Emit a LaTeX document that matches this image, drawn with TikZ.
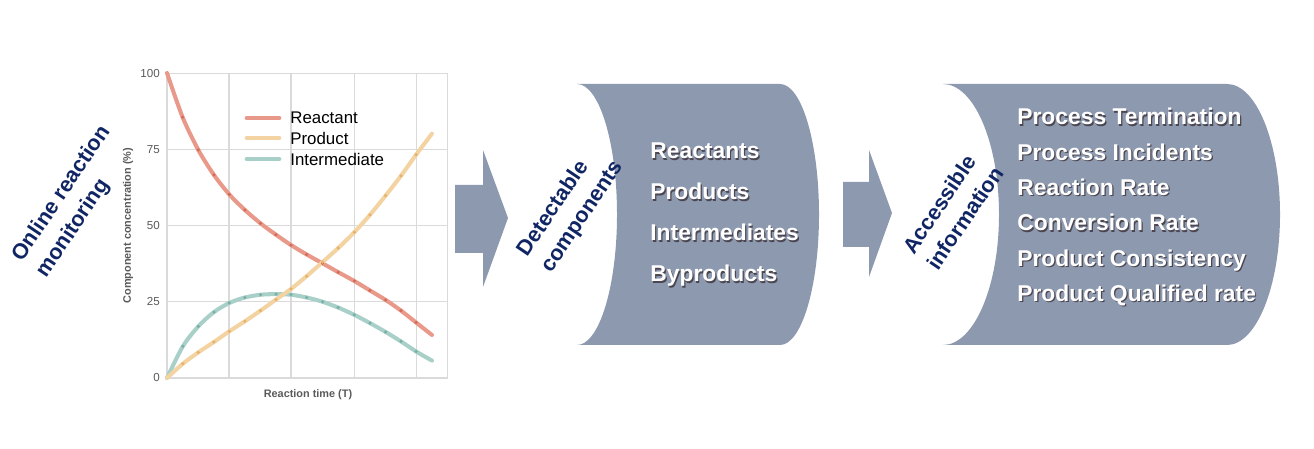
\documentclass[tikz,border=0pt]{standalone}
\usepackage{fontspec}
\setmainfont{Liberation Sans}
\usepackage{xcolor}
\usepackage{tikz}
\usetikzlibrary{positioning,calc}
\definecolor{navy}{HTML}{102563}
\definecolor{slab}{HTML}{8D99AF}
\definecolor{gridc}{HTML}{DADADA}
\definecolor{tickc}{HTML}{5A5A5A}
\definecolor{reac}{HTML}{E9998A}
\definecolor{reacd}{HTML}{D56A58}
\definecolor{prod}{HTML}{F3D3A2}
\definecolor{prodd}{HTML}{E6B26A}
\definecolor{intm}{HTML}{A8D0C9}
\definecolor{intmd}{HTML}{78B0A6}
\definecolor{txtshade}{HTML}{4B4650}
\newcommand\shtxt[1]{\makebox[0pt][l]{\kern0.7pt\raisebox{-0.7pt}{\textcolor{txtshade}{#1}}}#1}

\begin{document}
\begin{tikzpicture}[x=0.02cm,y=0.02cm,
  ttl/.style={font=\fontsize{12.3}{16.5}\selectfont\bfseries,text=navy,align=left,rotate=56,inner sep=0pt},
  tk/.style={font=\fontsize{6.6}{8}\selectfont,text=tickc,anchor=east,inner sep=0pt},
  axl/.style={font=\fontsize{6.2}{7}\selectfont\bfseries,text=tickc,inner sep=0pt},
  lg/.style={font=\fontsize{9.6}{11}\selectfont,anchor=west,inner sep=0pt},
  gl/.style={gridc,line width=0.6pt},
  crv/.style={line width=2.3pt,line cap=round},
  item/.style={font=\fontsize{13}{15}\selectfont\bfseries,text=white,anchor=base west,inner sep=0pt},
  slabs/.style={fill=slab}
]
\useasboundingbox (0,0) rectangle (1314,449);
% ---- left: title and concentration chart ----
\node[ttl] (mon) at (74,247) {Online reaction\\monitoring};
\begin{scope}[shift={(167,71)},x=5.3cm,y=0.061cm]
  \foreach \v in {0,25,50,75,100} \draw[gl] (0,\v) -- (1.06,\v);
  \foreach \t in {0,0.234,0.468,0.706,0.94,1.06} \draw[gl] (\t,0) -- (\t,100);
  \foreach \v in {0,25,50,75,100} \node[tk] (tk\v) at (-0.026,\v) {\v};
  \node[axl,rotate=90] (ylab) at (-0.147,50) {Component concentration (\%)};
  \node[axl] (xlab) at (0.532,-5.6) {Reaction time (T)};
  % curves
  \draw[crv,intm] plot[smooth] coordinates {(0,0) (0.06,10.4) (0.118,16.9) (0.177,21.6)
    (0.235,24.6) (0.294,26.4) (0.353,27.3) (0.411,27.5) (0.468,27.3) (0.527,26.4) (0.587,25)
    (0.646,23.1) (0.707,20.7) (0.766,18) (0.825,15.1) (0.883,12) (0.94,8.7) (1,5.7)};
  \draw[crv,reac] plot[smooth] coordinates {(0,100) (0.059,85.5) (0.118,74.8) (0.177,66.6)
    (0.235,60.2) (0.294,55.1) (0.353,50.7) (0.411,47) (0.468,43.6) (0.527,40.5) (0.587,37.6)
    (0.646,34.7) (0.707,31.8) (0.766,28.7) (0.825,25.6) (0.883,22.1) (0.94,18.2) (1,14.1)};
  \draw[crv,prod] plot[smooth] coordinates {(0,0) (0.06,4.7) (0.118,8.4) (0.177,11.8)
    (0.235,15.3) (0.294,18.6) (0.353,22.1) (0.411,25.7) (0.468,29.2) (0.527,33.4) (0.587,38)
    (0.646,42.6) (0.707,47.8) (0.766,53.5) (0.825,59.8) (0.883,66.3) (0.94,73.2) (1,80.1)};
  % sample dots
  \foreach \t/\v in {0.06/10.4,0.118/16.9,0.177/21.6,0.235/24.6,0.294/26.4,0.353/27.3,
    0.411/27.5,0.468/27.3,0.527/26.4,0.587/25,0.646/23.1,0.707/20.7,0.766/18,0.825/15.1,
    0.883/12,0.94/8.7}
    \fill[intmd] (\t,\v) circle[radius=1pt];
  \foreach \t/\v in {0.059/85.5,0.118/74.8,0.177/66.6,0.235/60.2,0.294/55.1,0.353/50.7,
    0.411/47,0.468/43.6,0.527/40.5,0.587/37.6,0.646/34.7,0.707/31.8,0.766/28.7,0.825/25.6,
    0.883/22.1,0.94/18.2}
    \fill[reacd] (\t,\v) circle[radius=1pt];
  \foreach \t/\v in {0.06/4.7,0.118/8.4,0.177/11.8,0.235/15.3,0.294/18.6,0.353/22.1,
    0.411/25.7,0.468/29.2,0.527/33.4,0.587/38,0.646/42.6,0.707/47.8,0.766/53.5,0.825/59.8,
    0.883/66.3,0.94/73.2}
    \fill[prodd] (\t,\v) circle[radius=1pt];
\end{scope}
% legend
\node[lg] (lgR) at (290,331) {Reactant};
\node[lg] (lgP) at (290,311) {Product};
\node[lg] (lgI) at (290,290) {Intermediate};
\draw[crv,reac,line width=2.8pt] ($(lgR.west)+(-43,0)$) -- ++(32,0);
\draw[crv,prod,line width=2.8pt] ($(lgP.west)+(-43,0)$) -- ++(32,0);
\draw[crv,intm,line width=2.8pt] ($(lgI.west)+(-43,0)$) -- ++(32,0);
% ---- first arrow and detectable components ----
\fill[slabs] (455,264) -- (483,264) -- (483,299) -- (508,231) -- (483,162) -- (483,196) -- (455,196) -- cycle;
\fill[slabs] (577,365) -- (780,365) arc[start angle=90,end angle=-90,x radius=39,y radius=130.5]
  -- (577,104) arc[start angle=-90,end angle=90,x radius=40,y radius=130.5] -- cycle;
\node[ttl] (det) at (571,240) {Detectable\\components};
\foreach \txt [count=\i] in {Reactants,Products,Intermediates,Byproducts}
  \node[item] (c\i) at (650,{290-41*(\i-1)}) {\shtxt{\txt}};
% ---- second arrow and accessible information ----
\fill[slabs] (843,267) -- (869,267) -- (869,299) -- (892,236) -- (869,172) -- (869,202) -- (843,202) -- cycle;
\fill[slabs] (943,365) -- (1227,365) arc[start angle=90,end angle=-90,x radius=53,y radius=130.5]
  -- (943,104) arc[start angle=-90,end angle=90,x radius=56,y radius=130.5] -- cycle;
\node[ttl] (acc) at (953,239) {Accessible\\information};
\foreach \txt [count=\i] in {Process Termination,Process Incidents,Reaction Rate,Conversion Rate,Product Consistency,Product Qualified rate}
  \node[item] (a\i) at (1017,{324-35.3*(\i-1)}) {\shtxt{\txt}};
\end{tikzpicture}
\end{document}
